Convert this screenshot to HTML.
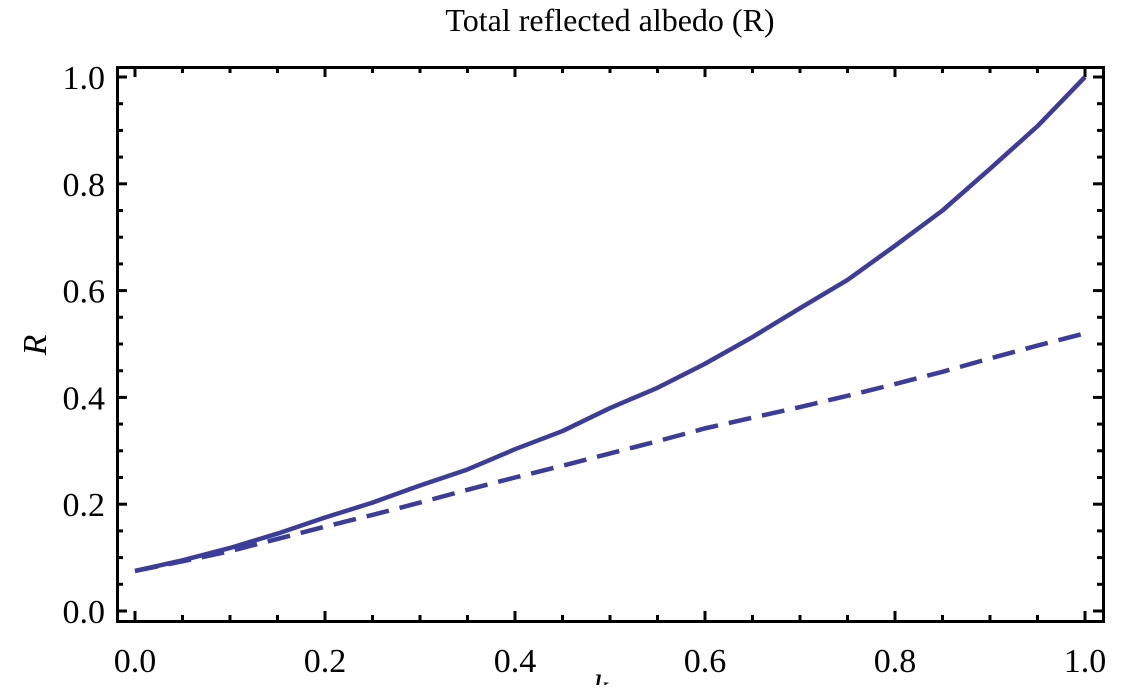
<!DOCTYPE html>
<html><head><meta charset="utf-8"><style>
body{margin:0;background:#fff;width:1124px;height:685px;overflow:hidden}
svg text{font-family:"Liberation Serif",serif;fill:#000}
</style></head><body>
<svg id="chart" width="1124" height="685" viewBox="0 0 1124 685" xmlns="http://www.w3.org/2000/svg">
<text x="610" y="31" font-size="32" text-anchor="middle">Total reflected albedo (R)</text>
<text transform="translate(46,345) rotate(-90)" font-size="34" font-style="italic" text-anchor="middle">R</text>
<text x="593" y="698" font-size="34" font-style="italic">k<tspan font-size="22" dy="4">d</tspan></text>
<g id="ticks"></g>
<g id="series"></g>
<rect x="117.5" y="67.5" width="986" height="554" fill="none" stroke="#000" stroke-width="3"/>
</svg>
<script>
const xs=[0,0.05,0.1,0.15,0.2,0.25,0.3,0.35,0.4,0.45,0.5,0.55,0.6,0.65,0.7,0.75,0.8,0.85,0.9,0.95,1.0];
const solidR=[0.075,0.095,0.118,0.145,0.175,0.203,0.235,0.265,0.303,0.337,0.38,0.418,0.463,0.513,0.567,0.62,0.684,0.75,0.828,0.908,1.0];
const dashedR=[0.075,0.093,0.112,0.135,0.158,0.18,0.203,0.227,0.25,0.272,0.295,0.318,0.342,0.362,0.382,0.403,0.425,0.448,0.473,0.497,0.52];
const xTickLabels=["0.0","0.2","0.4","0.6","0.8","1.0"];
const yTickLabels=["0.0","0.2","0.4","0.6","0.8","1.0"];
const X=v=>135+v*950, Y=v=>611-v*534;
const NS="http://www.w3.org/2000/svg";
const tk=document.getElementById('ticks'), sr=document.getElementById('series');
function mk(tag,attrs,parent){const e=document.createElementNS(NS,tag);for(const k in attrs)e.setAttribute(k,attrs[k]);parent.appendChild(e);return e;}
for(let i=0;i<=20;i++){
  const v=i*0.05, major=i%4===0, L=major?9:5;
  const px=X(v), py=Y(v);
  let t=mk('line',{x1:px,x2:px,y1:620,y2:620-L,stroke:'#000','stroke-width':3},tk);
  
  
  t=mk('line',{x1:px,x2:px,y1:68,y2:68+L,stroke:'#000','stroke-width':3},tk);
  
  
  t=mk('line',{x1:118,x2:118+L,y1:py,y2:py,stroke:'#000','stroke-width':3},tk);
  
  
  t=mk('line',{x1:1102,x2:1102-L,y1:py,y2:py,stroke:'#000','stroke-width':3},tk);
  
  
}
xTickLabels.forEach((s,i)=>{const t=mk('text',{x:X(i*0.2),y:672,'font-size':34,'text-anchor':'middle'},tk);t.textContent=s;
  
  });
yTickLabels.forEach((s,i)=>{const t=mk('text',{x:105,y:Y(i*0.2)+12,'font-size':34,'text-anchor':'end'},tk);t.textContent=s;
  
  });
function pts(arr){return xs.map((x,i)=>X(x)+','+Y(arr[i])).join(' ');}
let p=mk('polyline',{points:pts(dashedR),fill:'none',stroke:'#3c3c9a','stroke-width':4.5,'stroke-dasharray':'23 11'},sr);


p=mk('polyline',{points:pts(solidR),fill:'none',stroke:'#3c3c9a','stroke-width':4.5,'stroke-linejoin':'round'},sr);


</script>
</body></html>
